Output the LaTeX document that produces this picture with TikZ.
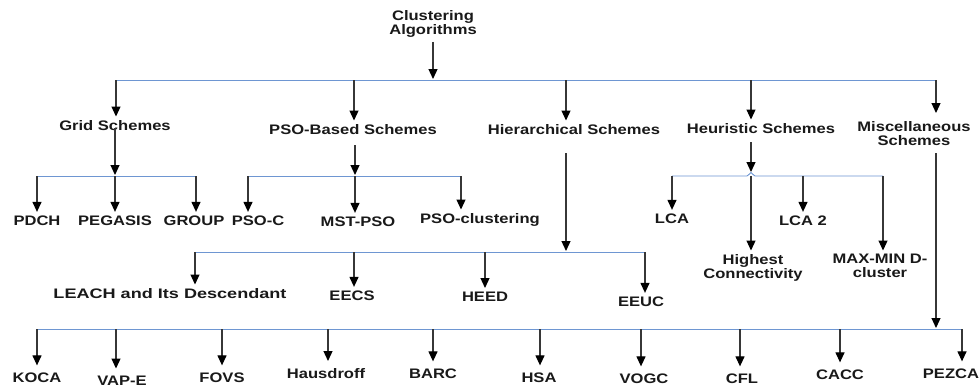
\documentclass[tikz,border=0pt]{standalone}
\usepackage{fontspec}
\setmainfont{Liberation Sans}[FakeStretch=1.2]
\newfontfamily\widefont{Liberation Sans}[FakeStretch=1.31]
\usetikzlibrary{arrows.meta,calc}
\definecolor{busblue}{RGB}{110,150,210}
\definecolor{linegray}{RGB}{55,55,55}
\definecolor{txt}{RGB}{25,25,25}
\begin{document}
\begin{tikzpicture}[x=1pt,y=-1pt,
  lbl/.style={inner sep=0pt, outer sep=0pt, font=\fontsize{13.8}{14}\selectfont\bfseries, text=txt, anchor=base},
  lbl2/.style={lbl, anchor=north, align=center},
  bus/.style={draw=busblue, line width=0.9pt},
  arr/.style={draw=linegray, line width=1.2pt, -{Triangle[width=9pt,length=10pt,color=black]}},
  arrdown/.style={arr, shorten >=3.5pt},
  arrlow/.style={arr, shorten >=7pt},
  arrbus/.style={arr, shorten >=1pt}]
\useasboundingbox (0,0) rectangle (979,386);
\fill[white] (0,0) rectangle (979,386);

% ---------- labels ----------
\node[lbl2] (root) at (433,10) {Clustering\\Algorithms};

\node[lbl] (grid) at (115,130) {Grid Schemes};
\node[lbl] (pso)  at (353,134) {PSO-Based Schemes};
\node[lbl] (hier) at (574,134) {Hierarchical Schemes};
\node[lbl] (heur) at (761,133) {Heuristic Schemes};
\node[lbl2] (misc) at (914,121) {Miscellaneous\\Schemes};

\node[lbl] (pdch)    at (37,225)  {PDCH};
\node[lbl] (pegasis) at (115,225) {PEGASIS};
\node[lbl] (group)   at (194,225) {GROUP};
\node[lbl] (psoc)    at (258,225) {PSO-C};
\node[lbl] (mstpso)  at (358,226) {MST-PSO};
\node[lbl] (psocl)   at (480,223) {PSO-clustering};

\node[lbl] (lca)     at (672,223) {LCA};
\node[lbl2] (hc)     at (753,254) {Highest\\Connectivity};
\node[lbl] (lcatwo)  at (803,225) {LCA 2};
\node[lbl2] (maxmin) at (880,254) {MAX-MIN D-\\cluster};

\node[lbl, font=\fontsize{13.8}{14}\selectfont\widefont\bfseries] (leach) at (170,298) {LEACH and Its Descendant};
\node[lbl] (eecs) at (352,300) {EECS};
\node[lbl] (heed) at (485,301) {HEED};
\node[lbl] (eeuc) at (641,306) {EEUC};

\node[lbl] (koca)  at (37,382)  {KOCA};
\node[lbl] (vape)  at (122,385) {VAP-E};
\node[lbl] (fovs)  at (222,382) {FOVS};
\node[lbl] (haus)  at (326,378) {Hausdroff};
\node[lbl] (barc)  at (433,378) {BARC};
\node[lbl] (hsa)   at (539,382) {HSA};
\node[lbl] (vogc)  at (644,383) {VOGC};
\node[lbl] (cfl)   at (742,383) {CFL};
\node[lbl] (cacc)  at (840,379) {CACC};
\node[lbl] (pezca) at (951,378) {PEZCA};

% ---------- bus coordinates ----------
\coordinate (t0) at (433,80);
\coordinate (t1) at (116,80);
\coordinate (t2) at (354,80);
\coordinate (t3) at (566,80);
\coordinate (t4) at (751,80);
\coordinate (t5) at (936,80);

\coordinate (ga) at (115,176);
\coordinate (g1) at (37,176);
\coordinate (g2) at (115,176);
\coordinate (g3) at (196,176);

\coordinate (pa) at (355,176);
\coordinate (p1) at (248,176);
\coordinate (p2) at (355,176);
\coordinate (p3) at (461,176);

\coordinate (ua) at (751,176);
\coordinate (u1) at (672,176);
\coordinate (u2) at (751,176);
\coordinate (u3) at (803,176);
\coordinate (u4) at (883,176);

\coordinate (ha) at (566,252);
\coordinate (h1) at (195,252);
\coordinate (h2) at (354,252);
\coordinate (h3) at (485,252);
\coordinate (h4) at (645,252);

\coordinate (ma) at (936,329);
\coordinate (m1) at (37,329);
\coordinate (m2) at (116,329);
\coordinate (m3) at (222,329);
\coordinate (m4) at (328,329);
\coordinate (m5) at (433,329);
\coordinate (m6) at (540,329);
\coordinate (m7) at (641,329);
\coordinate (m8) at (740,329);
\coordinate (m9) at (840,329);
\coordinate (m10) at (962,329);

% ---------- buses ----------
\draw[bus] (t1) -- (t5);
\draw[bus] (g1) -- (g3);
\draw[bus] (p1) -- (p3);
\draw[bus] (u1) -- ($(ua)+(-4,0)$)
  .. controls ($(ua)+(-2,0)$) and ($(ua)+(-1.5,-3.5)$) .. ($(ua)+(0,-3.5)$)
  .. controls ($(ua)+(1.5,-3.5)$) and ($(ua)+(2,0)$) .. ($(ua)+(4,0)$) -- (u4);
\draw[bus] (h1) -- (h4);
\draw[bus] (m1) -- (963,329);

% ---------- connectors ----------
\draw[arrbus, shorten <=5pt] (t0 |- root.south) -- (t0);

\foreach \c/\n in {t1/grid, t2/pso, t3/hier, t4/heur}
  \draw[arrdown] (\c) -- (\c |- \n.north);
\draw[arr, shorten >=8pt] (t5) -- (t5 |- misc.north);

\draw[arrbus, shorten <=-2pt] (ga |- grid.south) -- (ga);
\draw[arrbus, shorten <=11pt] (pa |- pso.south) -- (pa);
\draw[arrbus, shorten <=9pt] (ua |- heur.south) -- ($(ua)+(0,-3)$);
\draw[arrbus, shorten <=19pt] (ha |- hier.south) -- (ha);
\draw[arrbus, shorten <=8pt] (ma |- misc.south) -- (ma);

\foreach \c/\n in {g1/pdch, g2/pegasis, g3/group, p1/psoc, p2/mstpso, p3/psocl,
                   u1/lca, u2/hc, u3/lcatwo, u4/maxmin,
                   h1/leach, h2/eecs, h3/heed, h4/eeuc}
  \draw[arrdown] (\c) -- (\c |- \n.north);

\foreach \c/\n in {m1/koca, m2/vape, m3/fovs, m4/haus, m5/barc, m6/hsa,
                   m7/vogc, m8/cfl, m9/cacc, m10/pezca}
  \draw[arrlow] (\c) -- (\c |- \n.north);
\end{tikzpicture}
\end{document}
